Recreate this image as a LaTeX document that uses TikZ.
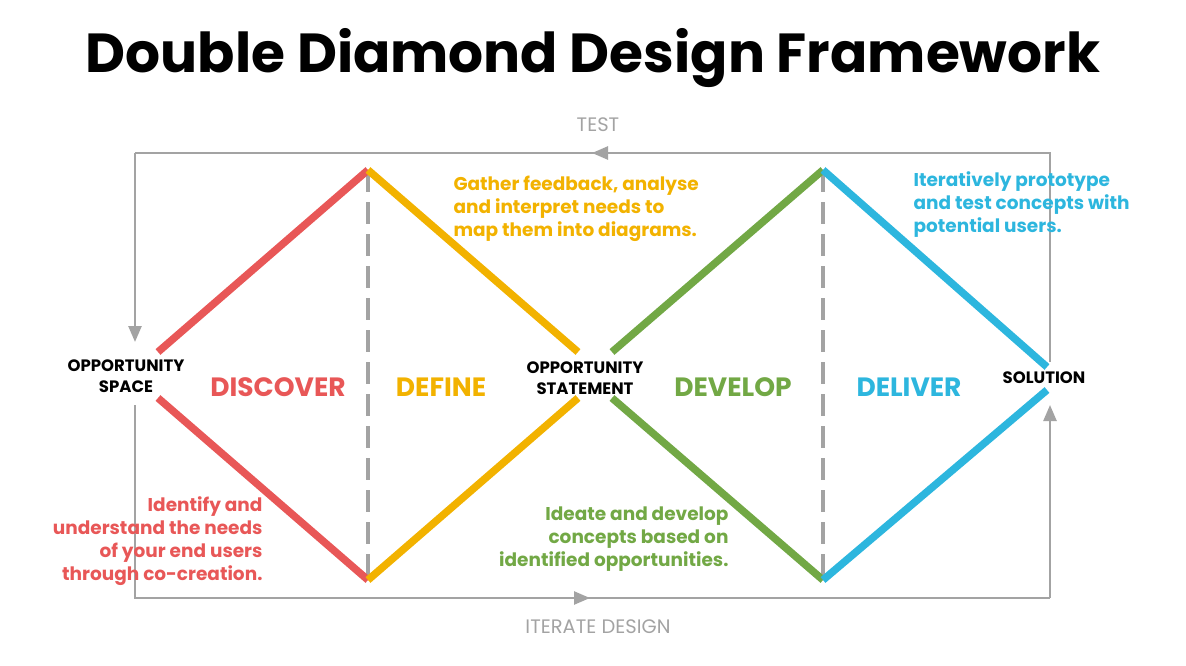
\documentclass[tikz,border=0pt]{standalone}
\usepackage{fontspec}
\setmainfont{Poppins}
\usepackage{xcolor}
\usetikzlibrary{positioning,arrows.meta}
\definecolor{ddred}{HTML}{E85757}
\definecolor{ddyellow}{HTML}{F2B200}
\definecolor{ddgreen}{HTML}{72A845}
\definecolor{ddblue}{HTML}{2DB6DE}
\definecolor{ddgray}{HTML}{A3A3A3}
\begin{document}
\begin{tikzpicture}[x=1pt, y=-1pt,
    phase/.style={line width=7.5pt},
    divider/.style={ddgray, line width=3.5pt, dash pattern=on 22pt off 10pt},
    loop/.style={ddgray, line width=2.5pt},
    tip/.style={-{Triangle[length=16pt,width=13pt]}},
    phaselabel/.style={font=\bfseries\fontsize{26.5}{30}\selectfont},
    note/.style={font=\bfseries\fontsize{18.5}{23}\selectfont, align=#1},
    point/.style={font=\bfseries\fontsize{16.5}{21}\selectfont, align=center}]
    \useasboundingbox (0,0) rectangle (1186,666);

    \node[font=\bfseries\fontsize{55}{60}\selectfont] (title) at (593,58) {Double Diamond Design Framework};

    % diamond corners
    \coordinate (top1) at (368,170);
    \coordinate (bot1) at (368,580);
    \coordinate (top2) at (823,170);
    \coordinate (bot2) at (823,580);
    \coordinate (l1) at (158,352);  \coordinate (l2) at (158,398);
    \coordinate (m1) at (578,352);  \coordinate (m2) at (578,398);
    \coordinate (m3) at (612,352);  \coordinate (m4) at (612,398);
    \coordinate (r1) at (1047,367); \coordinate (r2) at (1047,390);

    \draw[divider] (top1) -- (bot1);
    \draw[divider] (top2) -- (bot2);

    \draw[phase, ddred] (l1) -- (top1);
    \draw[phase, ddred] (l2) -- (bot1);
    \draw[phase, ddyellow] (top1) -- (m1);
    \draw[phase, ddyellow] (bot1) -- (m2);
    \draw[phase, ddgreen] (m3) -- (top2);
    \draw[phase, ddgreen] (m4) -- (bot2);
    \draw[phase, ddblue] (top2) -- (r1);
    \draw[phase, ddblue] (bot2) -- (r2);

    % feedback loops
    \coordinate (tr) at (1050,153);
    \coordinate (tl) at (135,153);
    \coordinate (rstart) at (1050,362);
    \coordinate (lend) at (135,342);
    \coordinate (tmid) at (592,153);
    \coordinate (lstart) at (135,405);
    \coordinate (bl) at (135,598);
    \coordinate (br) at (1050,598);
    \coordinate (rend) at (1050,405);
    \coordinate (bmid) at (590,598);
    \draw[loop] (rstart) -- (tr) -- (tl);
    \draw[loop, tip] (tl) -- (lend);
    \draw[loop, tip] (tr) -- (tmid);
    \draw[loop] (lstart) -- (bl) -- (br);
    \draw[loop, tip] (br) -- (rend);
    \draw[loop, tip] (bl) -- (bmid);

    \node[ddgray, font=\fontsize{19.5}{22}\selectfont] (test) at (598,125) {TEST};
    \node[ddgray, font=\fontsize{19.5}{22}\selectfont] (iterate) at (598,627) {ITERATE DESIGN};

    \node[point] (space) at (126,376) {OPPORTUNITY\\SPACE};
    \node[point] (statement) at (585,378) {OPPORTUNITY\\STATEMENT};
    \node[point] (solution) at (1044,378) {SOLUTION};

    \node[phaselabel, ddred] (discover) at (278,387) {DISCOVER};
    \node[phaselabel, ddyellow] (define) at (441,387) {DEFINE};
    \node[phaselabel, ddgreen] (develop) at (733,387) {DEVELOP};
    \node[phaselabel, ddblue] (deliver) at (909,387) {DELIVER};

    \node[note=left, ddyellow, anchor=north west] (definetext) at (450,172)
        {Gather feedback, analyse\\and interpret needs to\\map them into diagrams.};
    \node[note=left, ddblue, anchor=north west] (delivertext) at (910,168)
        {Iteratively prototype\\and test concepts with\\potential users.};
    \node[note=right, ddred, anchor=north east] (discovertext) at (266,493)
        {Identify and\\understand the needs\\of your end users\\through co-creation.};
    \node[note=right, ddgreen, anchor=north east] (developtext) at (732,503)
        {Ideate and develop\\concepts based on\\identified opportunities.};
\end{tikzpicture}
\end{document}
